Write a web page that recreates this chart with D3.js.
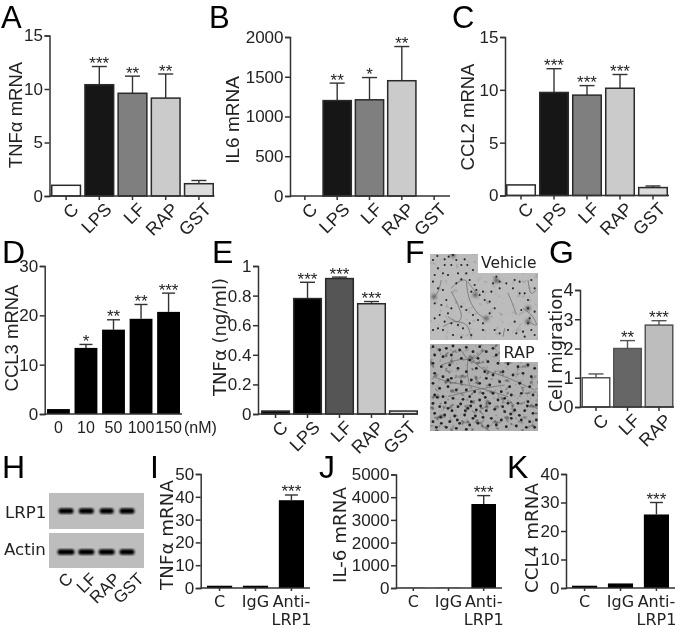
<!DOCTYPE html>
<html><head><meta charset="utf-8">
<script src="https://cdnjs.cloudflare.com/ajax/libs/d3/7.8.5/d3.min.js"></script>
<style>
html,body{margin:0;padding:0;background:#fff}
svg{display:block}
text{fill:#222}
</style></head><body>
<svg id="fig" width="677" height="628"></svg>
<script>
// ---------- categories ----------
const catsMain = ["C","LPS","LF","RAP","GST"];
const catsDose = ["0","10","50","100","150"];
const catsMig  = ["C","LF","RAP"];
const catsAb   = ["C","IgG","Anti-LRP1"];
const catsBlot = ["C","LF","RAP","GST"];
// ---------- values (bar height / top of error bar; null = no error bar) ----------
const tnfVals  = [1,10.4,9.6,9.15,1.15];   const tnfTops  = [null,12.1,11.2,11.4,1.45];
const il6Vals  = [0,1200,1210,1450,0];     const il6Tops  = [null,1420,1490,1880,null];
const ccl2Vals = [1,9.75,9.5,10.15,0.75];  const ccl2Tops = [null,12,10.4,11.45,0.9];
const ccl3Vals = [1,13.4,17.1,19.3,20.7];  const ccl3Tops = [null,14.1,19.1,22.2,24.5];
const tnfEVals = [0.02,0.78,0.915,0.745,0.02]; const tnfETops = [null,0.89,0.925,0.76,null];
const migVals  = [1,2,2.8];                const migTops  = [1.13,2.27,2.95];
const tnfIVals = [1,1,38.5];               const tnfITops = [null,null,40.8];
const il6JVals = [10,10,3700];             const il6JTops = [null,null,4070];
const ccl4Vals = [0.8,1.6,25.8];           const ccl4Tops = [null,null,30];
// ---------- significance ----------
const tnfStars  = ["","***","**","**",""];
const il6Stars  = ["","**","*","**",""];
const ccl2Stars = ["","***","***","***",""];
const ccl3Stars = ["","*","**","**","***"];
const tnfEStars = ["","***","***","***",""];
const migStars  = ["","**","***"];
const abStars   = ["","","***"];
// ---------- tick labels ----------
const ticksA = [0,5,10,15];
const ticksB = [0,500,1000,1500,2000];
const ticksD = [0,10,20,30];
const ticksE = [0,0.2,0.4,0.6,0.8,1];
const ticksG = [0,1,2,3,4];
const ticksI = [0,10,20,30,40,50];
const ticksJ = [0,1000,2000,3000,4000,5000];
const ticksK = [0,10,20,30,40];
// ---------- bar colours ----------
const fillsGrey = ["#ffffff","#191919","#7f7f7f","#cbcbcb","#dcdcdc"];
const fillsE    = ["#111111","#000000","#555555","#c8c8c8","#dddddd"];
const fillsG    = ["#ffffff","#666666","#bdbdbd"];

// ---------- micrograph texture (non-data picture content) ----------
const vehicleCells = [[15,30],[28,18],[50,28],[62,20],[75,15],[85,30],[110,28],[118,45],[100,45],[70,45],[50,45],[30,55],[45,70],[60,75],[90,70],[20,75],[115,70],[135,60],[125,90],[100,88],[85,100],[140,105],[130,125],[145,120],[165,125],[155,135],[170,150],[185,155],[190,125],[195,100],[215,115],[235,100],[260,90],[275,95],[290,130],[300,150],[275,130],[255,115],[320,115],[310,90],[205,80],[215,95],[15,95],[30,115],[45,120],[20,160],[40,165],[55,150],[70,175],[60,190],[35,195],[20,205],[50,215],[70,220],[100,170],[115,180],[135,195],[150,210],[165,220],[185,190],[200,175],[125,220],[105,235],[90,225],[30,235],[15,240],[45,240],[75,255],[100,262],[130,255],[165,240],[200,240],[215,250],[240,240],[260,215],[265,250],[285,245],[300,220],[310,240],[320,255],[290,260],[305,205],[320,185],[280,180],[300,175]];
const vehicleFibres = [[[70,115],[85,100],[110,90],[130,110],[145,130]],[[70,125],[90,165],[100,200],[90,215],[60,200]],[[115,95],[125,150],[150,190],[170,205]],[[40,90],[30,125],[15,145]],[[240,130],[255,165],[265,195]],[[300,90],[310,130],[325,120]],[[285,175],[310,195],[325,225],[300,215]],[[45,230],[80,215],[115,225],[130,265]],[[230,235],[225,260]],[[195,80],[215,95]]];
const vehicleBlobs = [[142,135],[175,205],[300,175],[18,140],[300,215],[205,92],[75,15]];
const rapCells = [[15,20],[35,30],[55,25],[75,18],[95,30],[115,22],[135,35],[155,20],[175,35],[195,25],[205,45],[20,45],[45,50],[70,45],[100,55],[125,60],[150,55],[180,65],[210,70],[240,72],[270,80],[300,75],[320,85],[15,70],[40,80],[65,75],[90,85],[115,95],[145,85],[170,95],[195,105],[225,95],[255,105],[285,100],[310,110],[20,100],[45,110],[70,115],[100,125],[130,120],[155,130],[185,135],[215,125],[245,140],[275,130],[305,140],[15,130],[35,145],[60,140],[85,150],[115,150],[140,155],[165,160],[195,160],[220,155],[250,165],[280,160],[315,165],[20,165],[45,170],[75,175],[105,178],[130,185],[155,180],[185,190],[210,180],[240,190],[270,190],[300,185],[325,195],[15,190],[35,200],[60,205],[90,200],[120,205],[145,210],[175,212],[200,208],[230,215],[260,210],[290,212],[315,220],[20,220],[50,225],[80,228],[110,225],[135,235],[165,232],[190,235],[220,240],[250,235],[280,240],[305,245],[325,240],[15,245],[40,250],[65,245],[95,250],[125,255],[150,250],[180,258],[205,255],[235,260],[265,258],[295,262],[320,262],[25,262],[55,262],[85,265],[115,268],[60,120],[175,115],[230,175],[125,170],[28,172],[52,188],[98,192],[112,212],[128,198],[158,198],[172,172],[224,200],[248,222],[274,226],[298,198],[142,228],[72,212],[38,232],[88,240]];
const rapFibres = [[[40,75],[90,60],[125,60],[170,90],[230,110],[320,150]],[[120,55],[118,100],[125,135]],[[15,110],[60,125],[140,140],[240,170]],[[60,170],[140,150],[230,135]],[[100,30],[125,60],[170,30]]];
// ---------- blot band strength is drawn per lane ----------
const lrpBandWidths = [15,15,14,15];
const actinBandWidths = [17,16,16,15];

const svg = d3.select("#fig");
const SANS = "'Liberation Sans',Arial,sans-serif", DJV = "'DejaVu Sans',Verdana,sans-serif";
const defs = svg.append("defs");
defs.append("filter").attr("id","b1").append("feGaussianBlur").attr("stdDeviation",0.8);
defs.append("filter").attr("id","b2").append("feGaussianBlur").attr("stdDeviation",0.4);
defs.append("filter").attr("id","b3").append("feGaussianBlur").attr("stdDeviation",1.5);
defs.append("filter").attr("id","soft").append("feGaussianBlur").attr("stdDeviation",0.3);
function speckle(id,freq,seed,slope,icpt){
  const f = defs.append("filter").attr("id",id).attr("x",0).attr("y",0).attr("width","100%").attr("height","100%");
  f.append("feTurbulence").attr("type","fractalNoise").attr("baseFrequency",freq).attr("numOctaves",2).attr("seed",seed);
  f.append("feColorMatrix").attr("values",`0 0 0 0 0.15  0 0 0 0 0.15  0 0 0 0 0.15  ${slope} 0 0 0 ${icpt}`);
  f.append("feGaussianBlur").attr("stdDeviation",0.5);
}
speckle("speckV",0.18,4,1.6,-1.0);
speckle("speckR",0.2,7,5,-2.85);
const root = svg.append("g").attr("filter","url(#soft)");

function panel(o){
  const y = d3.scaleLinear().domain([0,o.max]).range([o.bottom,o.top]);
  const x = d3.scaleBand().domain(o.cats).range([o.bar0,o.bar1]).paddingInner(o.pad||0.09).paddingOuter(0);
  const g = root.append("g");
  const rows = o.cats.map((c,i)=>({c,v:o.vals[i],t:o.tops[i],s:o.stars[i],f:o.fills?o.fills[i]:"#000"}));
  const sw = o.barStroke===0?0:1.5;
  g.selectAll("rect.bar").data(rows.filter(d=>d.v>0)).join("rect").attr("class","bar")
    .attr("x",d=>x(d.c)+sw/2).attr("width",x.bandwidth()-sw)
    .attr("y",d=>y(d.v)).attr("height",d=>Math.max(0,o.bottom-y(d.v)))
    .attr("fill",d=>d.f).attr("stroke",o.barColor||"#2a2a2a").attr("stroke-width",sw);
  const er = g.selectAll("g.err").data(rows.filter(d=>d.t!=null)).join("g").attr("class","err")
    .attr("stroke",o.errColor||"#333").attr("stroke-width",1.4);
  const cap = o.cap||7.5;
  er.append("line").attr("x1",d=>x(d.c)+x.bandwidth()/2).attr("x2",d=>x(d.c)+x.bandwidth()/2)
    .attr("y1",d=>y(d.v)).attr("y2",d=>y(d.t));
  er.append("line").attr("x1",d=>x(d.c)+x.bandwidth()/2-cap).attr("x2",d=>x(d.c)+x.bandwidth()/2+cap)
    .attr("y1",d=>y(d.t)).attr("y2",d=>y(d.t));
  g.selectAll("text.star").data(rows.filter(d=>d.s)).join("text").attr("class","star")
    .attr("x",d=>x(d.c)+x.bandwidth()/2).attr("y",d=>y(d.t)+2.5).attr("text-anchor","middle")
    .style("font",`17px ${SANS}`).text(d=>d.s);
  const ya = g.append("g").attr("transform",`translate(${o.axisX},0)`)
    .call(d3.axisLeft(y).tickValues(o.ticks).tickSizeOuter(0).tickSize(5).tickPadding(1.5).tickFormat(d=>d));
  const xa = g.append("g").attr("transform",`translate(0,${o.bottom})`)
    .call(d3.axisBottom(x).tickSizeOuter(0).tickSize(o.tickLen==null?4:o.tickLen));
  xa.select(".domain").attr("d",`M${o.axisX},0H${o.axisEnd}`);
  [ya,xa].forEach(a=>{
    a.selectAll(".domain,.tick line").attr("stroke","#333").attr("stroke-width",1.5);
    a.selectAll("text").attr("fill","#222");
  });
  ya.selectAll("text").style("font",`${o.yFont||17}px ${SANS}`);
  if(o.labelMode==="rot"){
    xa.selectAll("text").style("font",`18px ${SANS}`).attr("x",0).attr("y",0).attr("dy","0.35em").attr("text-anchor","end")
      .attr("transform",`translate(9,10) rotate(-45)`);
  } else if(o.labelMode==="flat"){
    xa.selectAll("text").style("font",`16px ${SANS}`).attr("dy",0).attr("y",19);
  } else if(o.labelMode==="ab"){
    xa.selectAll("text").each(function(d){
      const t = d3.select(this).text(null).attr("y",0).attr("dy",0).attr("text-anchor","middle")
        .style("font",`16px ${DJV}`);
      const parts = d==="Anti-LRP1"?["Anti-","LRP1"]:[d];
      parts.forEach((p,i)=>t.append("tspan").attr("x",0).attr("y",19+i*17.5).text(p));
    });
  }
  root.append("text").attr("transform",`translate(${o.titleX},${o.titleY}) rotate(-90)`)
    .attr("text-anchor","middle").attr("dominant-baseline","central")
    .style("font",`${o.titleSize||18.5}px ${o.titleFont||SANS}`).text(o.title);
}

panel({cats:catsMain,vals:tnfVals,tops:tnfTops,stars:tnfStars,fills:fillsGrey,max:15,ticks:ticksA,
  axisX:49.5,axisEnd:214.5,top:35.5,bottom:196,bar0:51,bar1:214,labelMode:"rot",title:"TNFα mRNA",titleX:15.5,titleY:115});
panel({cats:catsMain,vals:il6Vals,tops:il6Tops,stars:il6Stars,fills:fillsGrey,max:2000,ticks:ticksB,
  axisX:290,axisEnd:450,top:37,bottom:196,bar0:290,bar1:449,pad:0.08,labelMode:"rot",title:"IL6 mRNA",titleX:232.5,titleY:120,titleSize:19});
panel({cats:catsMain,vals:ccl2Vals,tops:ccl2Tops,stars:ccl2Stars,fills:fillsGrey,max:15,ticks:ticksA,
  axisX:505,axisEnd:669,top:37,bottom:195.5,bar0:506,bar1:668,labelMode:"rot",title:"CCL2 mRNA",titleX:467,titleY:117});
panel({cats:catsDose,vals:ccl3Vals,tops:ccl3Tops,stars:ccl3Stars,max:30,ticks:ticksD,pad:0.17,barStroke:0,cap:6.5,tickLen:0,
  axisX:44.7,axisEnd:182,top:266,bottom:414,bar0:47,bar1:180,labelMode:"flat",title:"CCL3 mRNA",titleX:11,titleY:338});
panel({cats:catsMain,vals:tnfEVals,tops:tnfETops,stars:tnfEStars,fills:fillsE,max:1,ticks:ticksE,
  axisX:258,axisEnd:418,top:266,bottom:414,bar0:261,bar1:418,labelMode:"rot",title:"TNFα (ng/ml)",titleX:219,titleY:337,titleSize:18,titleFont:DJV,cap:7.5});
panel({cats:catsMig,vals:migVals,tops:migTops,stars:migStars,fills:fillsG,max:4,ticks:ticksG,pad:0.08,cap:7.5,barColor:"#555",errColor:"#555",
  axisX:580,axisEnd:674,top:290,bottom:407,bar0:581.5,bar1:673.5,labelMode:"rot",title:"Cell migration",titleX:555,titleY:350,titleSize:17.8,titleFont:DJV,yFont:18});
panel({cats:catsAb,vals:tnfIVals,tops:tnfITops,stars:abStars,max:50,ticks:ticksI,pad:0.3,barStroke:0,cap:6.5,tickLen:3,
  axisX:200.7,axisEnd:310,top:474,bottom:588,bar0:207,bar1:304,labelMode:"ab",title:"TNFα mRNA",titleX:166,titleY:535,titleSize:18.3,titleFont:DJV});
panel({cats:catsAb,vals:il6JVals,tops:il6JTops,stars:abStars,max:5000,ticks:ticksJ,pad:0.3,barStroke:0,cap:6.5,tickLen:3,
  axisX:396,axisEnd:502,top:474.5,bottom:588,bar0:401,bar1:496,labelMode:"ab",title:"IL-6 mRNA",titleX:339,titleY:535,titleSize:18.3,titleFont:DJV});
panel({cats:catsAb,vals:ccl4Vals,tops:ccl4Tops,stars:abStars,max:40,ticks:ticksK,pad:0.3,barStroke:0,cap:6.5,tickLen:3,
  axisX:566,axisEnd:675,top:474,bottom:588,bar0:572,bar1:669,labelMode:"ab",title:"CCL4 mRNA",titleX:531,titleY:538,titleSize:18.3,titleFont:DJV});

root.append("text").attr("x",184).attr("y",433).style("font",`16px ${SANS}`).text("(nM)");

const letters = [["A",1,28,31],["B",209,28,31],["C",452,28,31],["D",2,263,32],["E",212,263,32],["F",405,263,32],["G",549,263,32],["H",2,478,32],["I",150,478,32],["J",319,478,32],["K",507,478,32]];
root.selectAll("text.letter").data(letters).join("text").attr("class","letter")
  .attr("x",d=>d[1]).attr("y",d=>d[2]).style("font",d=>`${d[3]}px ${SANS}`).style("fill","#000").text(d=>d[0]);

function photo(x0,x1,y0,y1,bg,speck,cropX,cropY,cells,fibres,blobs,r,cover,label,labelX,labelY,lf){
  const sx = d3.scaleLinear().domain([0,345]).range([cropX,cropX+115]);
  const sy = d3.scaleLinear().domain([0,285]).range([cropY,cropY+95]);
  const id = "clip"+cropY;
  defs.append("clipPath").attr("id",id).append("rect").attr("x",x0).attr("y",y0).attr("width",x1-x0).attr("height",y1-y0);
  const g = root.append("g").attr("clip-path",`url(#${id})`);
  g.append("rect").attr("x",x0).attr("y",y0).attr("width",x1-x0).attr("height",y1-y0).attr("fill",bg);
  g.append("rect").attr("x",x0).attr("y",y0).attr("width",x1-x0).attr("height",y1-y0).attr("filter",`url(#${speck})`);
  const line = d3.line().x(d=>sx(d[0])).y(d=>sy(d[1])).curve(d3.curveCatmullRom);
  g.append("g").attr("filter","url(#b3)").selectAll("circle").data(blobs).join("circle")
    .attr("cx",d=>sx(d[0])).attr("cy",d=>sy(d[1])).attr("r",2.4).attr("fill","#555");
  const t = g.append("g").attr("filter","url(#b2)");
  t.selectAll("path").data(fibres).join("path").attr("d",line).attr("fill","none").attr("stroke","#666").attr("stroke-width",0.7);
  t.selectAll("circle").data(cells).join("circle").attr("cx",d=>sx(d[0])).attr("cy",d=>sy(d[1])).attr("r",r).attr("fill","#222");
  root.append("rect").attr("x",cover[0]).attr("y",y0-1).attr("width",x1-cover[0]+1).attr("height",cover[1]-y0+1).attr("fill","#fff");
  root.append("text").attr("x",labelX).attr("y",labelY).style("font",`${lf}px ${DJV}`).text(label);
}
photo(430,538,254,340,"#bcbcbc","speckV",428,250,vehicleCells,vehicleFibres,vehicleBlobs,1.05,[478,273],"Vehicle",481,268,15.5);
photo(430,538,344,431,"#b0b0b0","speckR",428,340,rapCells,rapFibres,[],1.4,[500,362],"RAP",503.5,358,16);

function blot(y0,y1,bandY,widths,label,labelX,labelY){
  root.append("rect").attr("x",49).attr("y",y0).attr("width",95).attr("height",y1-y0).attr("fill","#bdbdbd");
  const lanes = d3.scalePoint().domain(catsBlot).range([66,127]);
  root.append("g").attr("filter","url(#b1)").selectAll("rect").data(catsBlot).join("rect")
    .attr("x",(d,i)=>lanes(d)-widths[i]/2).attr("width",(d,i)=>widths[i]).attr("y",bandY-2.8).attr("height",5.6).attr("rx",2.5).attr("fill","#060606");
  root.append("text").attr("x",labelX).attr("y",labelY).style("font",`16.6px ${DJV}`).text(label);
}
blot(493,529,511,lrpBandWidths,"LRP1",5,518);
blot(533,568,552,actinBandWidths,"Actin",4,555);
const blotLabelX = d3.scalePoint().domain(catsBlot).range([70,141]);
root.selectAll("text.bl").data(catsBlot).join("text").attr("class","bl")
  .attr("text-anchor","end").attr("dominant-baseline","central")
  .attr("transform",d=>`translate(${blotLabelX(d)},576) rotate(-45)`)
  .style("font",`17px ${SANS}`).text(d=>d);
</script>
</body></html>
